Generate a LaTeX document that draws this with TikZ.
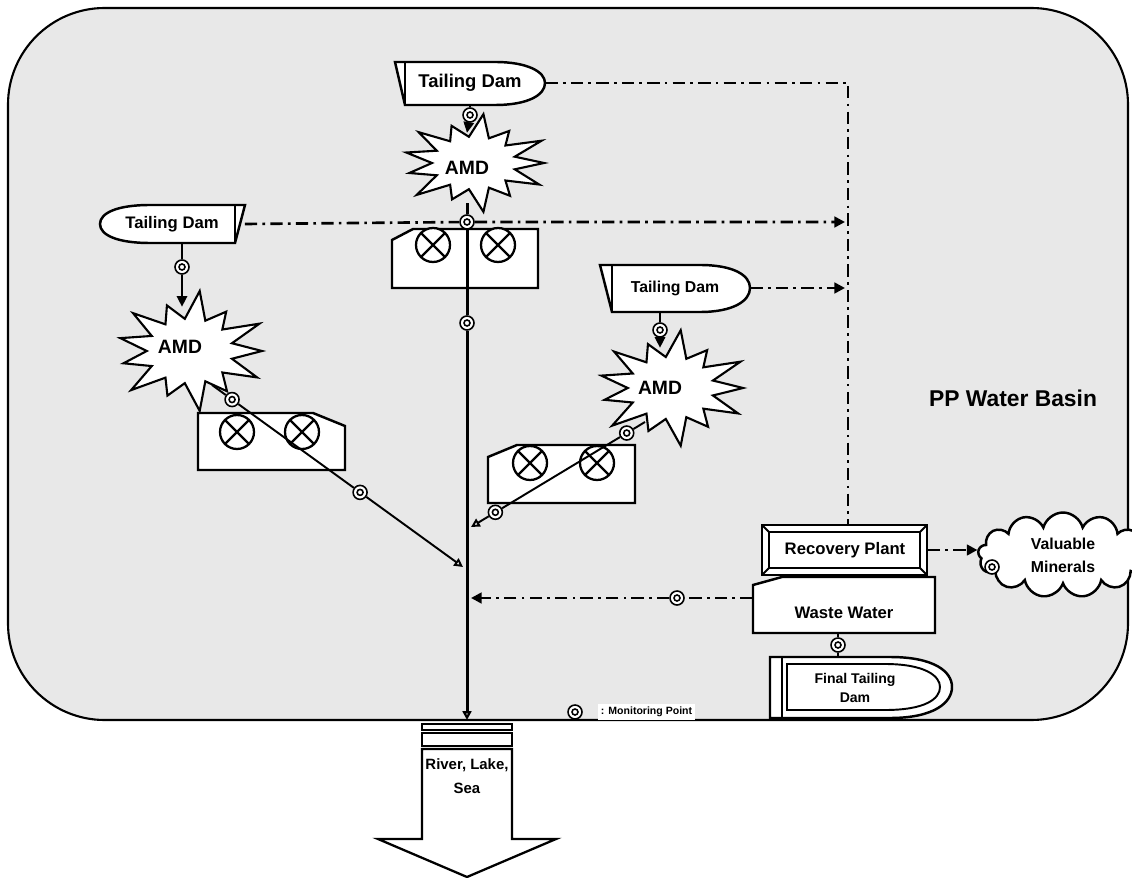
\documentclass[tikz,border=0pt]{standalone}
\usepackage{fontspec}
\setmainfont{Liberation Sans}
\usetikzlibrary{arrows.meta,shapes.symbols,calc}

\newcommand{\amdburst}[4]{%
  \draw[outline,line width=1.2pt] ({#1+#3},{#2})
    \foreach \k [evaluate=\k as \r using {ifthenelse(mod(\k,2)==0,1+0.12*sin(\k*77),0.6)}] in {1,...,25}
      { -- ({#1+\r*#3*cos(\k*360/26)},{#2+\r*#4*sin(\k*360/26)}) } -- cycle;}

\begin{document}
\begin{tikzpicture}[x=0.02cm,y=-0.02cm,
    outline/.style={draw,fill=white,line width=1.4pt},
    lbl/.style={font=\bfseries\fontsize{9.5}{11}\selectfont,inner sep=0pt,align=center},
    valve/.style={circle,draw,fill=white,line width=1.3pt,minimum size=0.68cm,inner sep=0pt,
      path picture={\draw[line width=1.3pt] (path picture bounding box.north west) -- (path picture bounding box.south east)
        (path picture bounding box.north east) -- (path picture bounding box.south west);}},
    monpt/.style={circle,draw,fill=white,line width=0.9pt,minimum size=0.28cm,inner sep=0pt,
      path picture={\draw[line width=0.9pt] (path picture bounding box.center) circle (0.06cm);}},
    mainline/.style={line width=1.7pt,-{Triangle[open,length=5pt,width=5pt]}},
    branch/.style={line width=1.1pt,-{Triangle[open,length=5pt,width=5pt]}},
    feed/.style={line width=0.8pt},
    recycle/.style={line width=1.5pt,dash pattern=on 7pt off 3pt on 1.5pt off 3pt},
    tip/.style={-{Triangle[length=6pt,width=6pt]}}]

\useasboundingbox (0,0) rectangle (1132,878);
\draw[line width=1.2pt,fill=gray!18,rounded corners=55pt] (8,8) rectangle (1128,720);

% tailing dams
\draw[outline] (395,62) -- (495,62) .. controls (528,62) and (545,72) .. (545,83) .. controls (545,95) and (528,105) .. (495,105) -- (405,105) -- cycle;
\draw[outline] (405,62) -- (405,105);
\draw[outline] (245,205) -- (150,205) .. controls (117,205) and (100,213) .. (100,224) .. controls (100,235) and (117,243) .. (150,243) -- (235,243) -- cycle;
\draw[outline] (235,205) -- (235,243);
\draw[outline] (600,265) -- (700,265) .. controls (733,265) and (750,275) .. (750,288) .. controls (750,301) and (733,312) .. (700,312) -- (612,312) -- cycle;
\draw[outline] (612,265) -- (612,312);

% treatment boxes
\draw[outline] (392,240) -- (413,229) -- (538,229) -- (538,288) -- (392,288) -- cycle;
\node[valve] (v1a) at (433,245) {};
\node[valve] (v1b) at (498,245) {};
\draw[outline] (198,413) -- (313,413) -- (345,426) -- (345,470) -- (198,470) -- cycle;
\node[valve] (v2a) at (237,432) {};
\node[valve] (v2b) at (302,432) {};
\draw[outline] (488,457) -- (517,445) -- (635,445) -- (635,503) -- (488,503) -- cycle;
\node[valve] (v3a) at (530,463) {};
\node[valve] (v3b) at (597,463) {};

\amdburst{474}{163}{70}{44}
\amdburst{190}{351}{72}{54}
\amdburst{671}{388}{72}{52}

% plant
\draw[outline] (753,585) -- (782,577) -- (935,577) -- (935,633) -- (753,633) -- cycle;
\draw[outline] (762,525) rectangle (927,575);
\draw[outline,line width=1.1pt] (769,532) rectangle (920,568);
\draw[line width=1.1pt] (762,525) -- (769,532) (927,525) -- (920,532) (927,575) -- (920,568) (762,575) -- (769,568);
\draw[outline] (770,657) -- (890,657) .. controls (935,657) and (952,672) .. (952,687) .. controls (952,702) and (935,718) .. (890,718) -- (770,718) -- cycle;
\draw[outline] (782,657) -- (782,718);
\draw[outline,line width=1.1pt] (787,664) -- (885,664) .. controls (925,664) and (940,676) .. (940,687) .. controls (940,699) and (925,710) .. (885,710) -- (787,710) -- cycle;

% outlet
\draw[outline,line width=1.2pt] (422,724) rectangle (512,730);
\draw[outline,line width=1.2pt] (422,733) rectangle (512,746);
\draw[outline,line width=1.3pt] (422,749) -- (512,749) -- (512,839) -- (556,839) -- (467,877) -- (378,839) -- (422,839) -- cycle;

\node[lbl,minimum width=3cm,minimum height=0.86cm,font=\bfseries\fontsize{10.5}{12}\selectfont] (dam1) at (470,83) {Tailing Dam};
\node[lbl,minimum width=2.9cm,minimum height=0.76cm] (dam2) at (172,224) {Tailing Dam};
\node[lbl,minimum width=3cm,minimum height=0.94cm,font=\bfseries\fontsize{9}{11}\selectfont] (dam3) at (675,288) {Tailing Dam};
\node[lbl,minimum height=1.4cm,font=\bfseries\fontsize{11}{13}\selectfont] (amd1) at (467,168) {AMD};
\node[lbl,minimum height=1.6cm,font=\bfseries\fontsize{11}{13}\selectfont] (amd2) at (180,347) {AMD};
\node[lbl,minimum height=1.6cm,font=\bfseries\fontsize{11}{13}\selectfont] (amd3) at (660,388) {AMD};
\node[lbl,minimum width=3.3cm,minimum height=1cm] (rec) at (845,550) {Recovery Plant};
\node[lbl,minimum width=3.64cm,minimum height=0.8cm] (waste) at (844,613) {Waste Water};
\node[lbl,minimum width=3.6cm,minimum height=1.22cm,font=\bfseries\fontsize{8}{11}\selectfont] (final) at (855,688) {Final Tailing\\Dam};
\node[cloud,draw,fill=white,line width=1.4pt,cloud puffs=13,aspect=2,minimum width=3.4cm,minimum height=1.7cm,
  lbl,font=\bfseries\fontsize{9}{13}\selectfont] (mineral) at (1063,555) {Valuable\\Minerals};
\node[lbl,font=\bfseries\fontsize{8.5}{14}\selectfont] (sea) at (467,776) {River, Lake,\\Sea};
\node[lbl,font=\bfseries\fontsize{13}{15}\selectfont] (basin) at (1013,398) {PP Water Basin};

\coordinate (d2s) at (212,385);
\coordinate (j1) at (463,567);
\coordinate (d3s) at (645,422);
\coordinate (j2) at (471,527);
\coordinate (j3) at (471,598);
\coordinate (outlet) at (467,720);
\coordinate (c1) at (848,83);

% monitoring points
\node[monpt] (m1) at (470,115) {};
\node[monpt] (m2) at (467,222) {};
\node[monpt] (m3) at (467,323) {};
\node[monpt] (m4) at (182,267) {};
\node[monpt] (m5) at ($(d2s)!0.08!(j1)$) {};
\node[monpt] (m6) at ($(d2s)!0.59!(j1)$) {};
\node[monpt] (m9) at (660,330) {};
\node[monpt] (m7) at ($(d3s)!0.105!(j2)$) {};
\node[monpt] (m8) at ($(d3s)!0.86!(j2)$) {};
\node[monpt] (m10) at (677,598) {};
\node[monpt] (m11) at (838,645) {};
\node[monpt] (m12) at (992,567) {};
\node[monpt] (mkey) at (575,712) {};
\node[lbl,fill=white,anchor=west,inner sep=1.5pt,font=\bfseries\fontsize{6}{7}\selectfont] (keytext) at (598,712) {: Monitoring Point};

% recycle lines
\draw[recycle] (dam1.east) -- (c1) -- (c1 |- rec.north);
\draw[recycle,tip] (dam2.east) -- (m2) -- ($(c1 |- m2)+(-3,0)$);
\draw[recycle,tip] (dam3.east) -- ($(c1 |- dam3.east)+(-3,0)$);
\draw[recycle,tip] (waste.west |- m10) -- (m10) -- (j3);
\draw[recycle,tip] (rec.east) -- (mineral.west |- rec.east);

% flows
\draw[feed] (dam1.south) -- (m1);
\draw[feed,tip] (m1) -- (amd1.north);
\draw[feed] (m4 |- dam2.south) -- (m4);
\draw[feed,tip] (m4) -- (m4 |- amd2.north);
\draw[feed] (m9 |- dam3.south) -- (m9);
\draw[feed,tip] (m9) -- (m9 |- amd3.north);
\draw[mainline] (amd1.south) -- (m2) -- (m3) -- (outlet);
\draw[branch] (d2s) -- (m5) -- (m6) -- (j1);
\draw[branch] (d3s) -- (m7) -- (m8) -- (j2);
\draw[feed,line width=1.1pt] (m11 |- waste.south) -- (m11) -- (m11 |- final.north);
\end{tikzpicture}
\end{document}
